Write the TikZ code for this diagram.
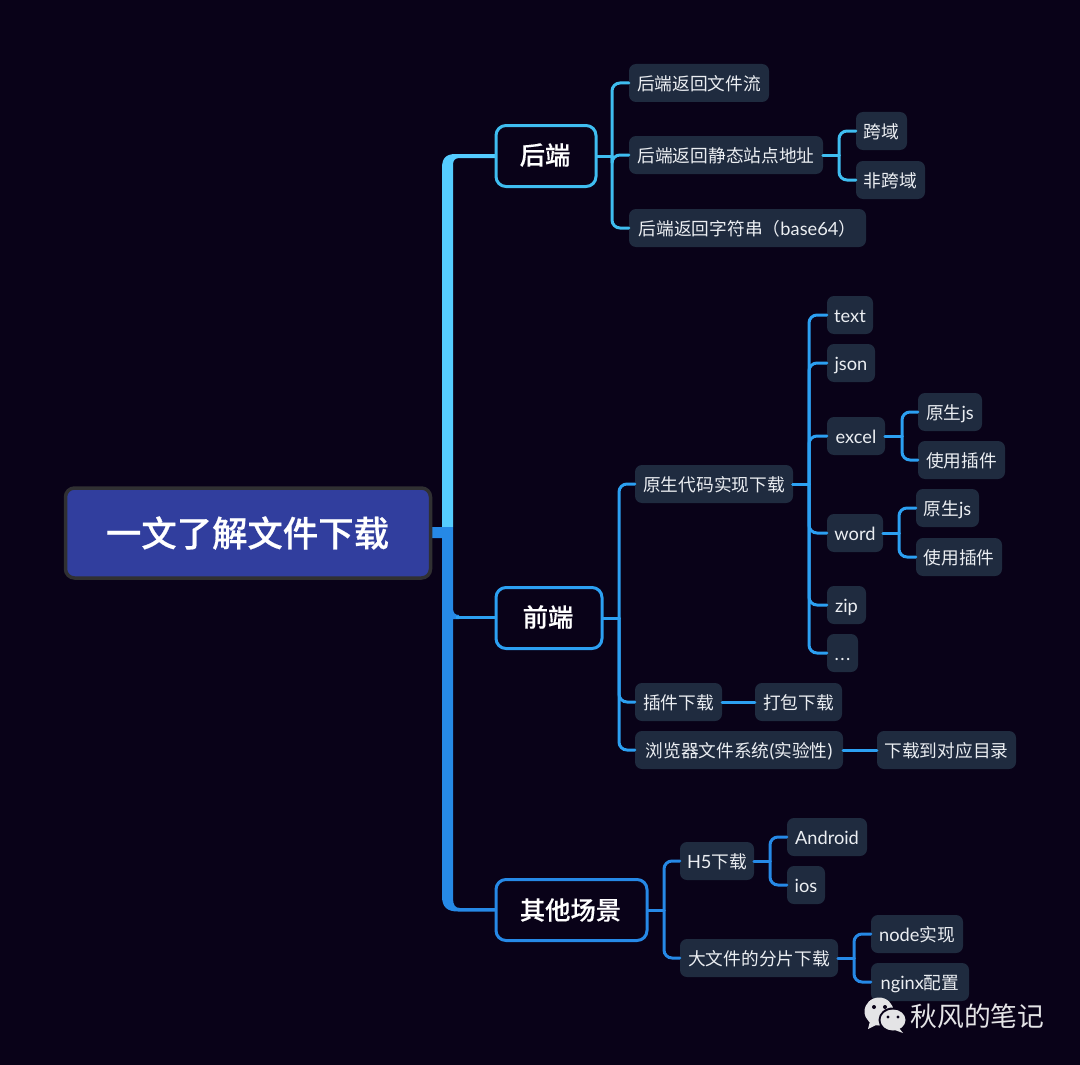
\documentclass[tikz,border=0pt]{standalone}
\usepackage{fontspec}
\setmainfont{Noto Sans CJK SC}
\newfontfamily\lat[Scale=1.03]{Lato}
\newfontfamily\cjmed[FakeBold=0.35]{Noto Sans CJK SC Medium}
\newfontfamily\cjtitle[FakeBold=0.5]{Noto Sans CJK SC Medium}
\definecolor{bgc}{HTML}{090218}
\definecolor{leafc}{HTML}{1F2B3F}
\definecolor{txtc}{HTML}{EBEEF2}
\definecolor{rootc}{HTML}{313E9E}
\definecolor{rootb}{HTML}{303032}
\definecolor{lightb}{HTML}{55CCFF}
\definecolor{linea}{HTML}{3FBDF0}
\definecolor{lineb}{HTML}{2CA0F2}
\definecolor{linec}{HTML}{2689E6}
\definecolor{markc}{HTML}{E4E4E6}
\tikzset{
  leafbox/.style={fill=leafc,rounded corners=7pt,minimum height=38pt,inner sep=0pt,text=txtc,font=\fontsize{17.7pt}{20pt}\selectfont},
  topicbox/.style={draw=#1,line width=3pt,fill=bgc,rounded corners=10pt,minimum height=61pt,inner sep=0pt,text=white,font=\fontsize{25.3pt}{28pt}\cjmed},
  rootbox/.style={draw=rootb,line width=3.5pt,fill=rootc,rounded corners=9pt,minimum height=90pt,inner sep=0pt,text=white,font=\fontsize{35.4pt}{38pt}\cjtitle},
  linkline/.style={line width=3pt,line cap=round,draw=#1},
}
\newcommand{\leaf}[5]{\node[leafbox,minimum width={(#3-#2)*1pt}] (#1) at ({(#2+#3)/2},#4) {\raisebox{-2.2pt}[\height][\depth]{\vphantom{国gj}#5}};}
\newcommand{\lnk}[4]{%
  \draw[linkline=#4] (#1.east) -- (#2 |- #1.east);
  \draw[linkline=#4,rounded corners=8pt] (#2 |- #1.east) -- (#2 |- #3.west) -- (#3.west);}
\begin{document}
\begin{tikzpicture}[x=1pt,y=-1pt]
\useasboundingbox (0,0) rectangle (1080,1065);
\fill[bgc] (0,0) rectangle (1080,1065);
% trunk
\fill[lightb] (442,527) -- (442,168) .. controls (442,158) and (446,154) .. (456,154) -- (495,154) -- (495,158) -- (460,158) .. controls (455,158) and (453,160) .. (453,165) -- (453,527) -- cycle;
\fill[linec] (432,527) -- (453,527) -- (453,608) .. controls (453,613) and (455,615) .. (459,615) -- (459,619) -- (453,619) -- (453,898) .. controls (453,905) and (455,908) .. (460,908) -- (495,908) -- (495,911.5) -- (458,911.5) .. controls (447,911.5) and (442,907) .. (442,896) -- (442,538) -- (432,538) -- cycle;
% nodes
\node[rootbox,minimum width=365pt] (root) at (248,533) {\hspace*{-1pt}一文了解文件下载};
\node[topicbox=linea,minimum width=100pt] (t1) at (546,156) {\hspace*{-2pt}\raisebox{1pt}[\height][\depth]{后端}};
\node[topicbox=lineb,minimum width=106pt] (t2) at (549,618) {\hspace*{-2pt}\raisebox{1pt}[\height][\depth]{前端}};
\node[topicbox=linec,minimum width=151pt] (t3) at (571.5,910) {\hspace*{-2pt}其他场景};
\leaf{a1}{629}{769}{83}{后端返回文件流}
\leaf{a2}{629}{823}{155}{后端返回静态站点地址}
\leaf{a3}{856}{907}{131}{跨域}
\leaf{a4}{856}{925}{180}{非跨域}
\leaf{a5}{629}{866}{228}{后端返回字符串（{\lat base64}）}
\leaf{b1}{635}{793}{484}{原生代码实现下载}
\leaf{c1}{827}{873}{315}{\lat text}
\leaf{c2}{827}{875}{363}{\lat json}
\leaf{c3}{827}{885}{436}{\lat excel}
\leaf{c4}{827}{883}{533}{\lat word}
\leaf{c5}{827}{866}{605}{\lat zip}
\leaf{c6}{827}{858}{653}{\lat .\kern1.5pt.\kern1.5pt.}
\leaf{d1}{918}{982}{412}{原生{\lat js}}
\leaf{d2}{918}{1005}{460}{使用插件}
\leaf{d3}{916}{979}{508}{原生{\lat js}}
\leaf{d4}{916}{1002}{557}{使用插件}
\leaf{b2}{635}{722}{702}{插件下载}
\leaf{e1}{755}{842}{702}{打包下载}
\leaf{b3}{635}{843}{750}{浏览器文件系统{\lat (}实验性{\lat )}}
\leaf{e2}{877}{1016}{750}{下载到对应目录}
\leaf{f1}{680}{754}{861}{{\lat H5}下载}
\leaf{g1}{787}{867}{837}{\lat Android}
\leaf{g2}{787}{825}{885}{\lat ios}
\leaf{f2}{680}{838}{958}{大文件的分片下载}
\leaf{g3}{871}{963}{934}{{\lat node}实现}
\leaf{g4}{871}{969}{982}{{\lat nginx}配置}
\coordinate (busA) at (612,0);
\coordinate (busB) at (619,0);
\coordinate (busC) at (809,0);
\coordinate (busD) at (902,0);
\coordinate (busE) at (899,0);
\coordinate (busF) at (664,0);
\coordinate (busG) at (770,0);
\coordinate (busH) at (854,0);
\coordinate (busI) at (839,0);
\coordinate (flare) at (456,617);
\draw[linkline=lineb,line cap=butt] (flare) -- (flare -| t2.west);
% connectors
\lnk{t1}{busA}{a1}{linea}
\lnk{t1}{busA}{a2}{linea}
\lnk{t1}{busA}{a5}{linea}
\lnk{a2}{busI}{a3}{linea}
\lnk{a2}{busI}{a4}{linea}
\lnk{t2}{busB}{b1}{lineb}
\lnk{t2}{busB}{b2}{lineb}
\lnk{t2}{busB}{b3}{lineb}
\lnk{b1}{busC}{c1}{lineb}
\lnk{b1}{busC}{c2}{lineb}
\lnk{b1}{busC}{c3}{lineb}
\lnk{b1}{busC}{c4}{lineb}
\lnk{b1}{busC}{c5}{lineb}
\lnk{b1}{busC}{c6}{lineb}
\lnk{c3}{busD}{d1}{lineb}
\lnk{c3}{busD}{d2}{lineb}
\lnk{c4}{busE}{d3}{lineb}
\lnk{c4}{busE}{d4}{lineb}
\draw[linkline=lineb] (b2) -- (e1);
\draw[linkline=lineb] (b3) -- (e2);
\lnk{t3}{busF}{f1}{linec}
\lnk{t3}{busF}{f2}{linec}
\lnk{f1}{busG}{g1}{linec}
\lnk{f1}{busG}{g2}{linec}
\lnk{f2}{busH}{g3}{linec}
\lnk{f2}{busH}{g4}{linec}
% watermark
\fill[markc] (879,1011.5) ellipse[x radius=14.5,y radius=14];
\fill[markc] (870,1021) -- (868,1029) -- (878,1024) -- cycle;
\fill[bgc] (893,1020) ellipse[x radius=14.5,y radius=12.5];
\fill[markc] (893,1020) ellipse[x radius=12.5,y radius=10.5];
\fill[markc] (899,1028) -- (903,1033) -- (892,1029) -- cycle;
\fill[bgc] (874,1007) circle[radius=2] (885,1007) circle[radius=2] (888,1017) circle[radius=1.7] (898,1017) circle[radius=1.7];
\node[text=markc,inner sep=0pt,font=\fontsize{26.8pt}{30pt}\selectfont] (mark) at (977.5,1016) {秋风的笔记};
\end{tikzpicture}
\end{document}
